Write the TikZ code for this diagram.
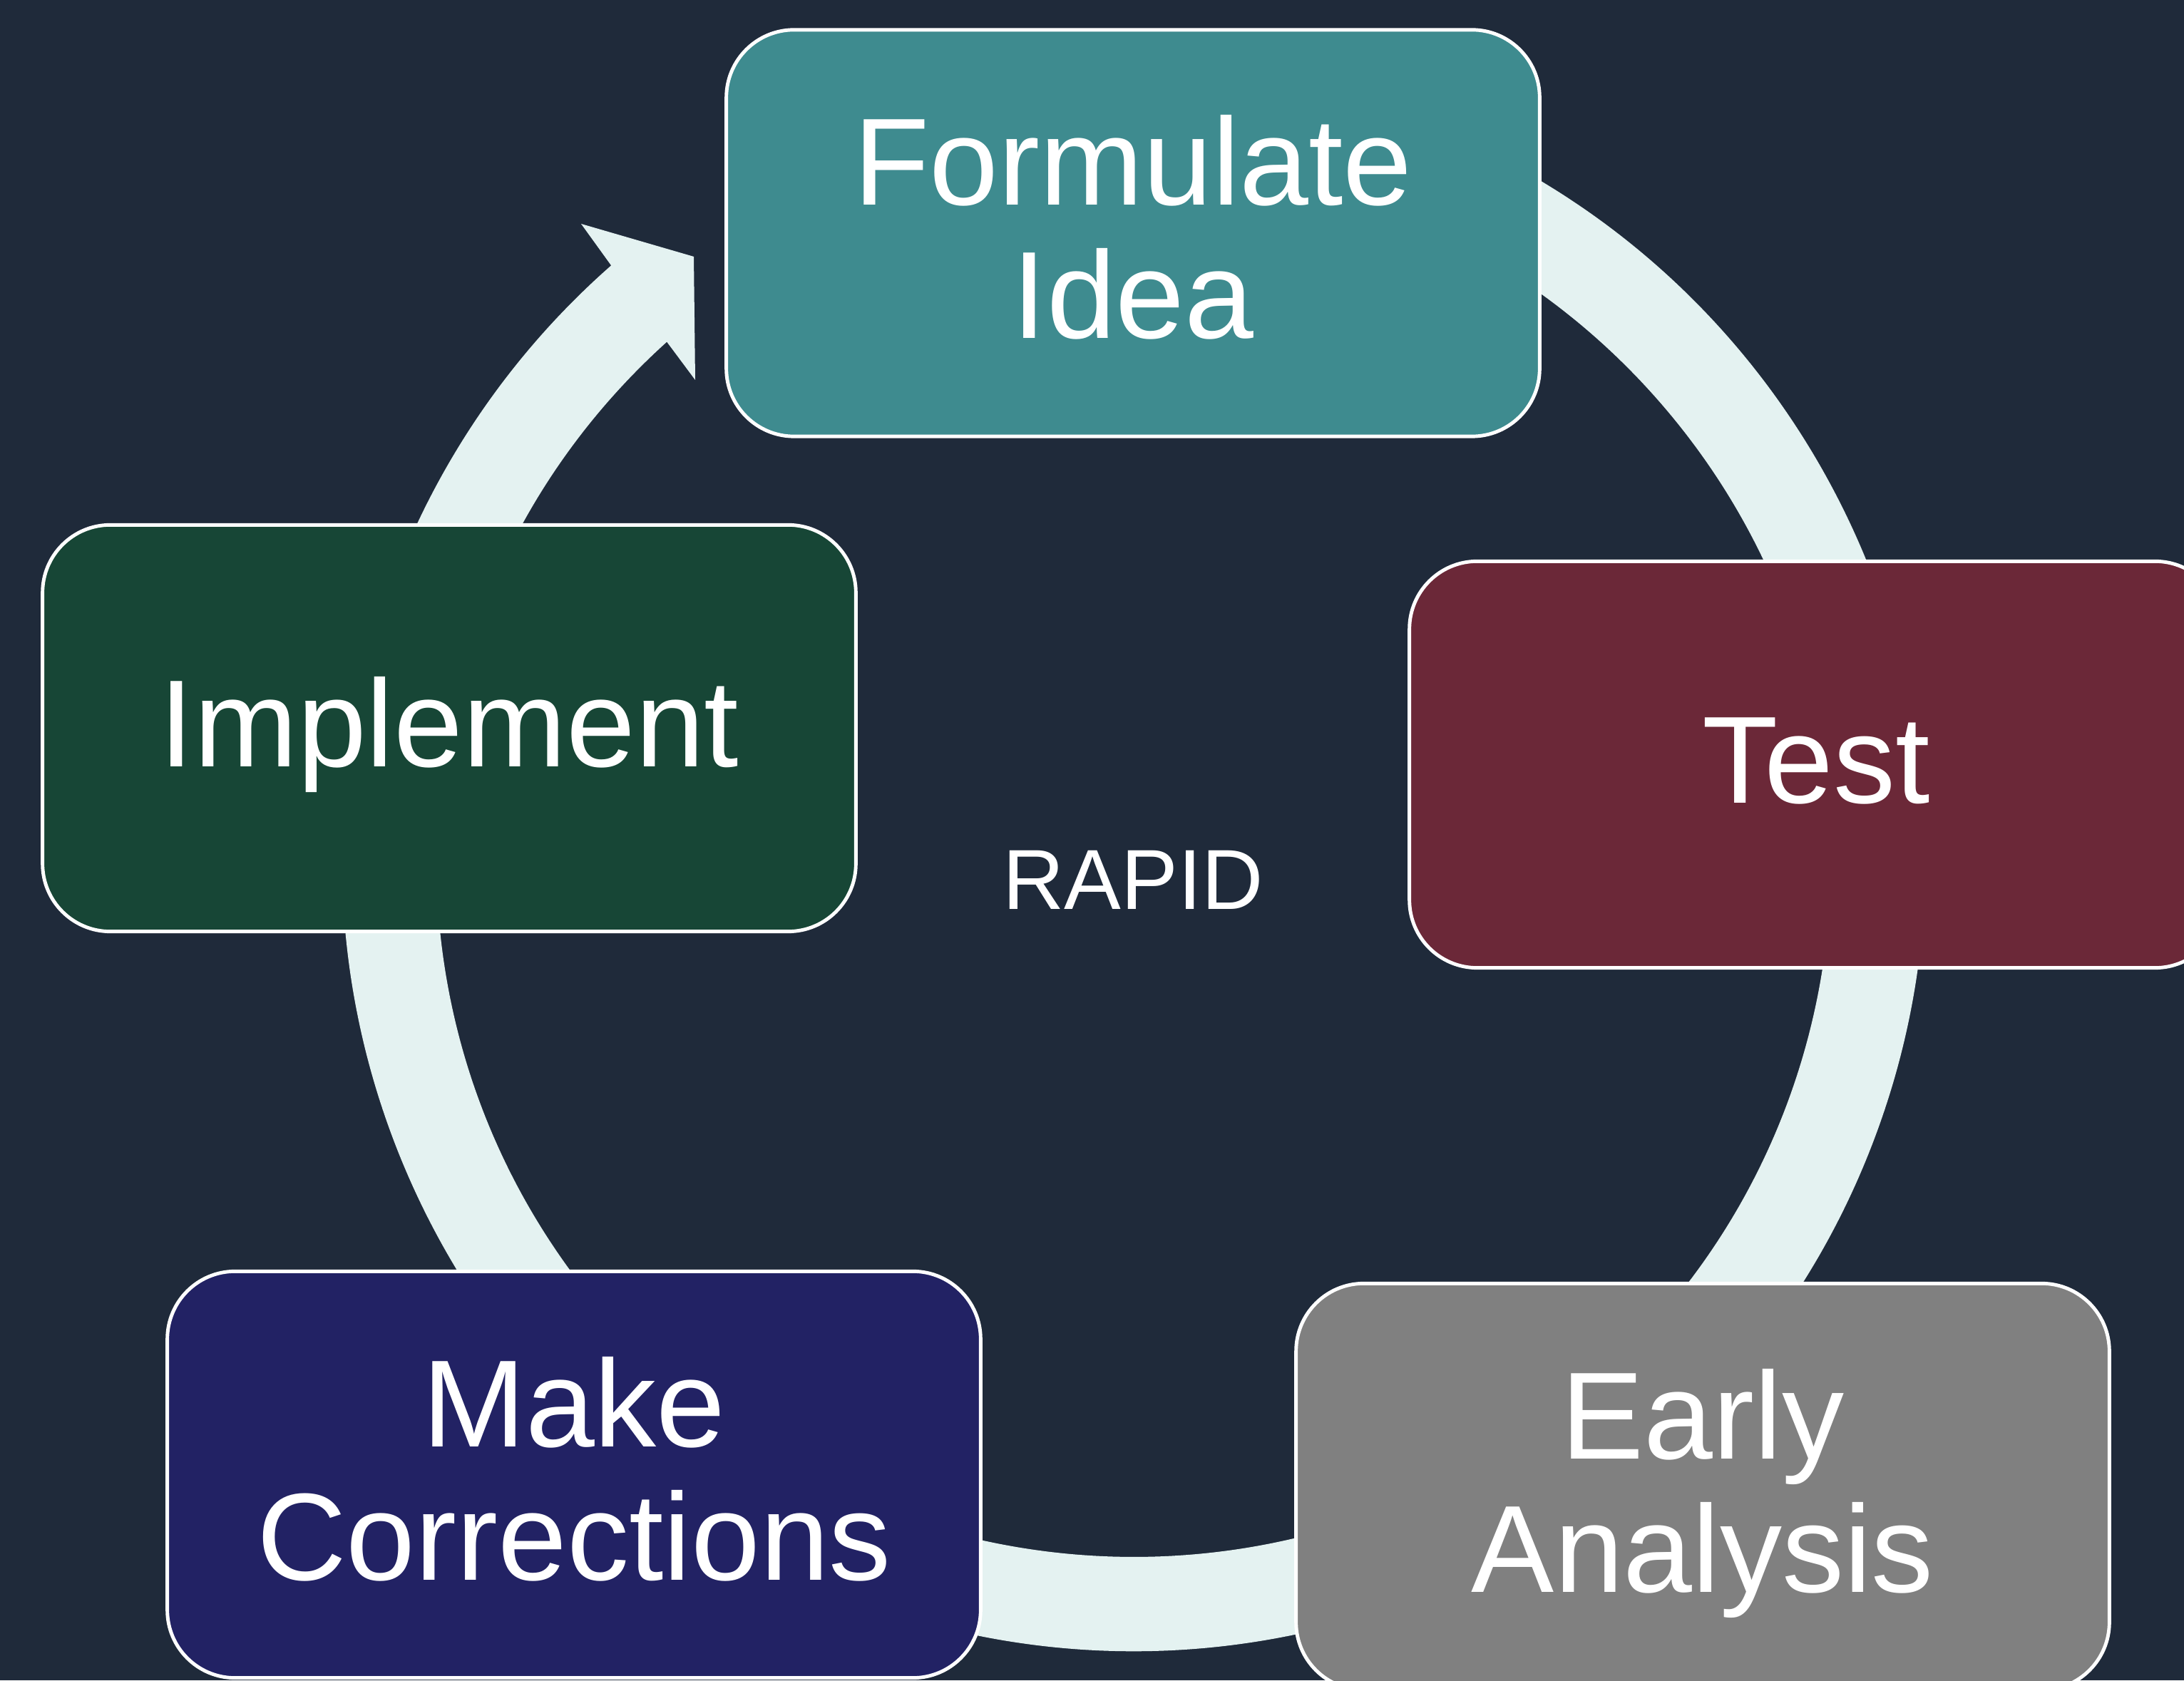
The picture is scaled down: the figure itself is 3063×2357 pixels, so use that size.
\documentclass[tikz,border=0pt]{standalone}
\usepackage{fontspec}
\setmainfont{Liberation Sans}
\usetikzlibrary{calc}
\definecolor{bgcol}{HTML}{1F2A3A}
\definecolor{ringcol}{HTML}{E4F2F1}
\definecolor{tealcol}{HTML}{3E8B8F}
\definecolor{marooncol}{HTML}{6B2838}
\definecolor{greycol}{HTML}{808080}
\definecolor{navycol}{HTML}{222264}
\definecolor{greencol}{HTML}{174636}
\begin{document}
\begin{tikzpicture}[x=0.01cm,y=0.01cm,
  stage/.style={draw=white, line width=1.4pt, rounded corners=0.95cm,
    minimum width=11.40cm, minimum height=5.70cm, inner sep=0pt,
    text=white, align=center, font=\fontsize{49.5}{53.2}\selectfont},
  oneline/.style={text height=44pt, text depth=13pt},
  twoline/.style={text height=96pt, text depth=12pt}]
\fill[bgcol] (0,0) rectangle (3063,2357);
\useasboundingbox (0,0) rectangle (3063,2357);
\coordinate (C) at (1590,1151);
% cycle arrow ring
\fill[ringcol] ($(C)+(70:1110)$) arc[start angle=70, end angle=-228.68, radius=1110]
  -- (815,2043) -- (973,1997) -- (975,1824)
  -- ($(C)+(-227.97:978)$) arc[start angle=-227.97, end angle=70, radius=978] -- cycle;
% stages
\node[stage, twoline, fill=tealcol] (form) at (1589,2030) {Formulate\\Idea};
\node[stage, oneline, fill=marooncol] (test) at (2547,1284.5) {Test};
\node[stage, twoline, fill=greycol] (early) at (2388,271.5) {Early\\Analysis};
\node[stage, twoline, fill=navycol] (make) at (805,288.5) {Make\\Corrections};
\node[stage, oneline, fill=greencol] (impl) at (630,1335.5) {Implement};
\node[text=white, inner sep=0pt, font=\fontsize{34}{40}\selectfont] (rapid) at (1589,1123) {RAPID};
\end{tikzpicture}
\end{document}
